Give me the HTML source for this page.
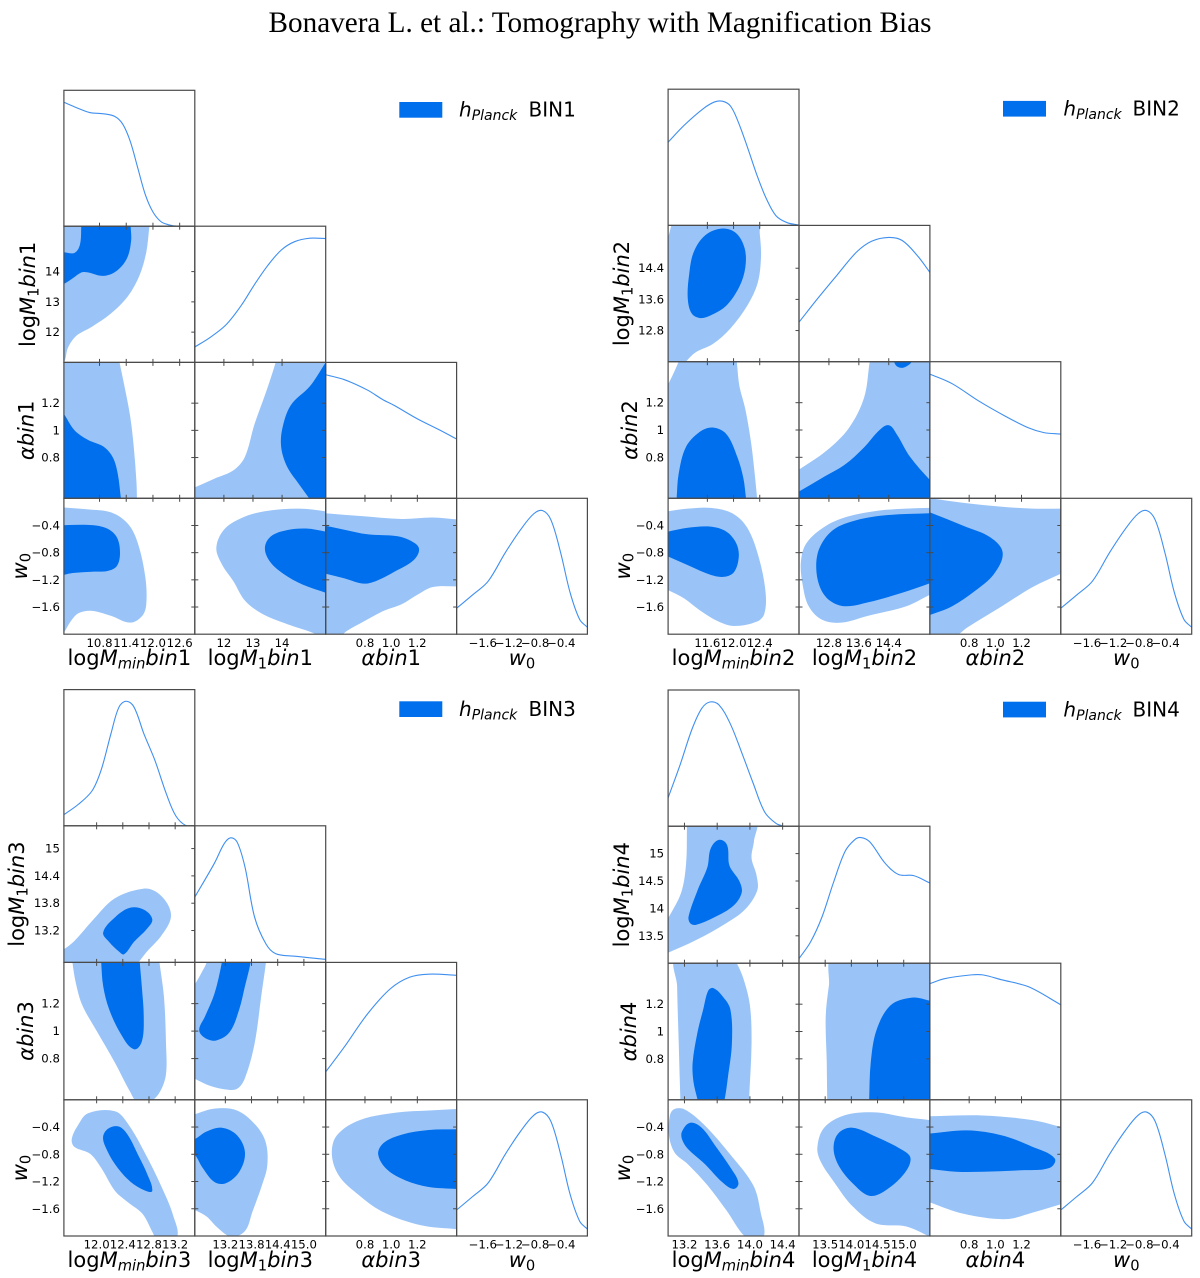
<!DOCTYPE html>
<html lang="en">
<head>
<meta charset="utf-8">
<title>Bonavera L. et al.: Tomography with Magnification Bias</title>
<style>
html,body{margin:0;padding:0;background:#fff;}
svg{display:block;font-family:"DejaVu Sans","Liberation Sans",sans-serif;}
.t{font-size:21px;fill:#000;text-anchor:middle;}
.i{font-style:italic;}
.s{font-size:14.7px;}
.l{font-size:20px;fill:#000;}
.ls{font-size:14px;font-style:italic;}
.tick-label{font-size:11.7px;fill:#000;}
</style>
</head>
<body>
<svg id="figure" width="1200" height="1278" viewBox="0 0 1200 1278" xmlns="http://www.w3.org/2000/svg">
<text x="600" y="32" text-anchor="middle" style="font-family:'Liberation Serif',serif;font-size:29.2px">Bonavera L. et al.: Tomography with Magnification Bias</text>

<rect x="399.3" y="102" width="43" height="15.7" fill="#006FED"/>
<text class="l" x="459" y="116.7"><tspan class="i">h</tspan><tspan class="ls" dy="3.5">Planck</tspan><tspan x="528.5" dy="-3.5">BIN1</tspan></text>
<rect x="1003" y="100.9" width="43" height="15.7" fill="#006FED"/>
<text class="l" x="1063.4" y="115.6"><tspan class="i">h</tspan><tspan class="ls" dy="3.5">Planck</tspan><tspan x="1132.5" dy="-3.5">BIN2</tspan></text>
<rect x="399.3" y="701.3" width="43" height="15.7" fill="#006FED"/>
<text class="l" x="459" y="716"><tspan class="i">h</tspan><tspan class="ls" dy="3.5">Planck</tspan><tspan x="528.5" dy="-3.5">BIN3</tspan></text>
<rect x="1003" y="701.7" width="43" height="15.7" fill="#006FED"/>
<text class="l" x="1063.4" y="716.4"><tspan class="i">h</tspan><tspan class="ls" dy="3.5">Planck</tspan><tspan x="1132.5" dy="-3.5">BIN4</tspan></text>

<text class="t" x="129.4" y="665">log<tspan class="i">M</tspan><tspan class="s i" dy="3.5">min</tspan><tspan class="i" dy="-3.5">bin</tspan>1</text>
<text class="t" x="260.3" y="665">log<tspan class="i">M</tspan><tspan class="s" dy="3.5">1</tspan><tspan class="i" dy="-3.5">bin</tspan>1</text>
<text class="t" x="391.2" y="665"><tspan class="i">αbin</tspan>1</text>
<text class="t" x="522" y="665"><tspan class="i">w</tspan><tspan class="s" dy="3.5">0</tspan></text>
<text class="t" x="733.5" y="665">log<tspan class="i">M</tspan><tspan class="s i" dy="3.5">min</tspan><tspan class="i" dy="-3.5">bin</tspan>2</text>
<text class="t" x="864.5" y="665">log<tspan class="i">M</tspan><tspan class="s" dy="3.5">1</tspan><tspan class="i" dy="-3.5">bin</tspan>2</text>
<text class="t" x="995.4" y="665"><tspan class="i">αbin</tspan>2</text>
<text class="t" x="1126.3" y="665"><tspan class="i">w</tspan><tspan class="s" dy="3.5">0</tspan></text>
<text class="t" x="129.4" y="1267">log<tspan class="i">M</tspan><tspan class="s i" dy="3.5">min</tspan><tspan class="i" dy="-3.5">bin</tspan>3</text>
<text class="t" x="260.3" y="1267">log<tspan class="i">M</tspan><tspan class="s" dy="3.5">1</tspan><tspan class="i" dy="-3.5">bin</tspan>3</text>
<text class="t" x="391.2" y="1267"><tspan class="i">αbin</tspan>3</text>
<text class="t" x="522" y="1267"><tspan class="i">w</tspan><tspan class="s" dy="3.5">0</tspan></text>
<text class="t" x="733.5" y="1267">log<tspan class="i">M</tspan><tspan class="s i" dy="3.5">min</tspan><tspan class="i" dy="-3.5">bin</tspan>4</text>
<text class="t" x="864.5" y="1267">log<tspan class="i">M</tspan><tspan class="s" dy="3.5">1</tspan><tspan class="i" dy="-3.5">bin</tspan>4</text>
<text class="t" x="995.4" y="1267"><tspan class="i">αbin</tspan>4</text>
<text class="t" x="1126.3" y="1267"><tspan class="i">w</tspan><tspan class="s" dy="3.5">0</tspan></text>

<text class="t" transform="translate(35.2 294.3) rotate(-90)">log<tspan class="i">M</tspan><tspan class="s" dy="3.5">1</tspan><tspan class="i" dy="-3.5">bin</tspan>1</text>
<text class="t" transform="translate(33.7 430.3) rotate(-90)"><tspan class="i">αbin</tspan>1</text>
<text class="t" transform="translate(26.8 566.2) rotate(-90)"><tspan class="i">w</tspan><tspan class="s" dy="3.5">0</tspan></text>
<text class="t" transform="translate(629 293.5) rotate(-90)">log<tspan class="i">M</tspan><tspan class="s" dy="3.5">1</tspan><tspan class="i" dy="-3.5">bin</tspan>2</text>
<text class="t" transform="translate(637 430) rotate(-90)"><tspan class="i">αbin</tspan>2</text>
<text class="t" transform="translate(630 566.2) rotate(-90)"><tspan class="i">w</tspan><tspan class="s" dy="3.5">0</tspan></text>
<text class="t" transform="translate(24 894.1) rotate(-90)">log<tspan class="i">M</tspan><tspan class="s" dy="3.5">1</tspan><tspan class="i" dy="-3.5">bin</tspan>3</text>
<text class="t" transform="translate(33 1031) rotate(-90)"><tspan class="i">αbin</tspan>3</text>
<text class="t" transform="translate(27 1168) rotate(-90)"><tspan class="i">w</tspan><tspan class="s" dy="3.5">0</tspan></text>
<text class="t" transform="translate(629 894.7) rotate(-90)">log<tspan class="i">M</tspan><tspan class="s" dy="3.5">1</tspan><tspan class="i" dy="-3.5">bin</tspan>4</text>
<text class="t" transform="translate(636 1031.5) rotate(-90)"><tspan class="i">αbin</tspan>4</text>
<text class="t" transform="translate(630 1168) rotate(-90)"><tspan class="i">w</tspan><tspan class="s" dy="3.5">0</tspan></text>
</svg>

<script>
/* ---------- axis ranges and ticks (data units) ---------- */
const alphaRange = [0.5, 1.5];
const w0Range = [-2, 0];
const alphaTicks = [0.8, 1.0, 1.2];
const alphaXLabels = ['0.8', '1.0', '1.2'];
const alphaYLabels = ['0.8', '1', '1.2'];
const w0Ticks = [-1.6, -1.2, -0.8, -0.4];
const w0Labels = ['\u22121.6', '\u22121.2', '\u22120.8', '\u22120.4'];

const bin1MminRange = [10, 12.94];
const bin1M1Range = [11, 15.5];
const bin1MminTicks = [10.8, 11.4, 12.0, 12.6];
const bin1MminLabels = ['10.8', '11.4', '12.0', '12.6'];
const bin1M1Ticks = [12, 13, 14];
const bin1M1XLabels = ['12', '13', '14'];
const bin1M1YLabels = ['12', '13', '14'];

const bin2MminRange = [11, 13];
const bin2M1Range = [12, 15.5];
const bin2MminTicks = [11.6, 12.0, 12.4];
const bin2MminLabels = ['11.6', '12.0', '12.4'];
const bin2M1Ticks = [12.8, 13.6, 14.4];
const bin2M1XLabels = ['12.8', '13.6', '14.4'];
const bin2M1YLabels = ['12.8', '13.6', '14.4'];

const bin3MminRange = [11.5, 13.5];
const bin3M1Range = [12.5, 15.5];
const bin3MminTicks = [12.0, 12.4, 12.8, 13.2];
const bin3MminLabels = ['12.0', '12.4', '12.8', '13.2'];
const bin3M1Ticks = [13.2, 13.8, 14.4, 15.0];
const bin3M1XLabels = ['13.2', '13.8', '14.4', '15.0'];
const bin3M1YLabels = ['13.2', '13.8', '14.4', '15'];

const bin4MminRange = [13, 14.6];
const bin4M1Range = [13, 15.5];
const bin4MminTicks = [13.2, 13.6, 14.0, 14.4];
const bin4MminLabels = ['13.2', '13.6', '14.0', '14.4'];
const bin4M1Ticks = [13.5, 14.0, 14.5, 15.0];
const bin4M1XLabels = ['13.5', '14.0', '14.5', '15.0'];
const bin4M1YLabels = ['13.5', '14', '14.5', '15'];

/* ---------- 1D marginals: [parameter, normalised density] ---------- */
const w0Density = [[-2,.21],[-1.754,.319],[-1.52,.427],[-1.257,.659],[-1.023,.845],[-.82,.975],[-.684,1],[-.556,.923],[-.409,.659],[-.263,.334],[-.117,.118],[0,.056]];

const bin1MminDensity = [[10,1.003],[10.28,.96],[10.58,.92],[10.89,.91],[11.14,.889],[11.32,.827],[11.49,.687],[11.66,.47],[11.83,.254],[12,.115],[12.18,.037],[12.35,.012],[12.56,0],[12.94,0]];
const bin1M1Density = [[11,.124],[11.54,.204],[12.07,.303],[12.59,.458],[13.05,.628],[13.51,.783],[13.97,.907],[14.43,.975],[14.96,1.003],[15.5,1]];
const bin1AlphaDensity = [[.5,1],[.643,.96],[.819,.876],[.936,.799],[1.023,.752],[1.199,.644],[1.374,.551],[1.5,.48]];

const bin2MminDensity = [[11,.672],[11.25,.811],[11.54,.944],[11.71,.997],[11.83,1.003],[11.95,.966],[12.06,.851],[12.21,.635],[12.36,.402],[12.5,.217],[12.65,.077],[12.82,.022],[13,.003]];
const bin2M1Density = [[12,.319],[12.51,.514],[13.02,.7],[13.54,.885],[13.94,.972],[14.4,1.003],[14.76,.978],[15.17,.854],[15.5,.721]];
const bin2AlphaDensity = [[.5,1],[.67,.923],[.874,.783],[1.08,.659],[1.254,.567],[1.371,.529],[1.5,.517]];

const bin3MminDensity = [[11.5,.09],[11.72,.173],[11.93,.282],[12.07,.452],[12.22,.746],[12.34,.957],[12.45,1.006],[12.57,.96],[12.72,.746],[12.89,.529],[13.07,.251],[13.21,.08],[13.36,.003],[13.5,0]];
const bin3M1Density = [[12.5,.526],[12.95,.799],[13.17,.954],[13.32,1.003],[13.47,.969],[13.65,.768],[13.87,.365],[14.13,.149],[14.35,.071],[14.79,.05],[15.5,.025]];
const bin3AlphaDensity = [[.5,.223],[.643,.424],[.819,.687],[.994,.889],[1.14,.981],[1.287,1.006],[1.5,.997]];

const bin4MminDensity = [[13,.229],[13.15,.502],[13.29,.78],[13.41,.95],[13.51,1.003],[13.62,.981],[13.76,.827],[13.9,.594],[14.04,.347],[14.18,.115],[14.32,.022],[14.41,0]];
const bin4M1Density = [[13,.037],[13.22,.17],[13.44,.372],[13.66,.65],[13.88,.898],[14.06,.99],[14.18,1.009],[14.35,.975],[14.64,.805],[14.9,.712],[15.19,.703],[15.5,.644]];
const bin4AlphaDensity = [[.5,.935],[.611,.975],[.816,1.006],[.904,1.006],[1.05,.966],[1.254,.91],[1.5,.765]];

/* ---------- 2D credible contours in data units: [x parameter, y parameter] ---------- */
/* BIN 1 */
const bin1M1MminOuter = [[10,11],[10.09,11.48],[10.28,11.88],[10.63,12.18],[11.06,12.62],[11.44,13.19],[11.7,13.88],[11.85,14.64],[11.92,15.5],[11.94,15.78],[9.8,15.78],[9.8,10.8]];
const bin1M1MminInner = [[9.85,13.5],[10,13.59],[10.2,13.78],[10.39,13.97],[10.52,13.98],[10.89,13.86],[11.19,14.03],[11.42,14.45],[11.51,15.02],[11.5,15.5],[11.5,15.78],[10.39,15.78],[10.39,15.5],[10.36,14.89],[10.24,14.62],[10,14.64],[9.85,14.67]];
const bin1AlphaMminOuter = [[11.23,1.54],[11.25,1.5],[11.36,1.325],[11.49,1.1],[11.57,.875],[11.63,.62],[11.64,.5],[11.64,.45],[9.8,.45],[9.8,1.54]];
const bin1AlphaMminInner = [[9.85,1.18],[10,1.12],[10.24,1],[10.54,.93],[10.89,.88],[11.1,.8],[11.21,.68],[11.28,.5],[11.3,.45],[9.8,.45]];
const bin1W0MminOuter = [[9.85,-.12],[10,-.135],[10.54,-.163],[11.06,-.208],[11.44,-.377],[11.66,-.659],[11.83,-1.166],[11.85,-1.56],[11.76,-1.73],[11.49,-1.83],[11.06,-1.73],[10.63,-1.656],[10.33,-1.69],[10.15,-1.814],[10,-1.98],[9.85,-2.12]];
const bin1W0MminInner = [[9.85,-.39],[10,-.394],[10.63,-.394],[10.97,-.445],[11.19,-.575],[11.26,-.8],[11.19,-.997],[10.98,-1.07],[10.63,-1.08],[10.2,-1.1],[10,-1.127],[9.85,-1.15]];
const bin1AlphaM1Outer = [[10.82,.56],[11,.58],[11.67,.644],[12.33,.706],[12.72,.804],[13.05,1.044],[13.45,1.283],[13.78,1.5],[13.84,1.565],[15.75,1.565],[15.75,.45],[10.82,.45]];
const bin1AlphaM1Inner = [[15.62,1.54],[15.5,1.5],[14.96,1.325],[14.3,1.185],[14.01,1.015],[13.97,.875],[14.17,.734],[14.57,.607],[14.93,.5],[15.09,.45],[15.75,.45],[15.75,1.54]];
const bin1W0M1Outer = [[11.74,-.727],[12,-.462],[12.59,-.293],[13.38,-.192],[14.57,-.152],[15.5,-.192],[15.82,-.22],[15.82,-2.12],[15.49,-2.12],[15.16,-2],[14.3,-1.87],[13.32,-1.7],[12.72,-1.504],[12.33,-1.223],[11.93,-.97]];
const bin1W0M1Inner = [[13.41,-.727],[13.62,-.558],[14.17,-.468],[14.83,-.445],[15.5,-.49],[15.82,-.513],[15.82,-1.448],[15.5,-1.39],[14.7,-1.268],[14.04,-1.11],[13.58,-.93]];
const bin1W0AlphaOuter = [[.44,-.208],[.5,-.22],[.79,-.265],[1.08,-.304],[1.316,-.282],[1.5,-.31],[1.564,-.31],[1.564,-1.296],[1.5,-1.296],[1.316,-1.307],[1.2,-1.42],[1.08,-1.56],[.936,-1.662],[.79,-1.814],[.66,-1.955],[.585,-2.07],[.44,-2.12]];
const bin1W0AlphaInner = [[.44,-.394],[.5,-.406],[.643,-.462],[.819,-.53],[1.05,-.558],[1.155,-.631],[1.213,-.744],[1.17,-.913],[1.023,-1.082],[.892,-1.211],[.79,-1.256],[.643,-1.178],[.5,-1.11],[.44,-1.08]];

/* BIN 2 */
const bin2M1MminOuter = [[12.37,15.65],[12.4,15.3],[12.42,14.71],[12.37,14.03],[12.21,13.44],[11.95,12.85],[11.68,12.45],[11.42,12.24],[11.27,12],[11.16,11.81],[10.89,11.81],[10.89,14.81],[11,15.2],[11.05,15.5],[11.08,15.65]];
const bin2M1MminInner = [[11.83,15.42],[12.04,15.3],[12.17,14.91],[12.18,14.42],[12.09,13.93],[11.89,13.44],[11.65,13.19],[11.49,13.12],[11.36,13.24],[11.3,13.63],[11.32,14.22],[11.39,14.81],[11.57,15.25]];
const bin2AlphaMminOuter = [[12.04,1.545],[12.05,1.5],[12.09,1.32],[12.18,1.153],[12.27,.9],[12.33,.648],[12.36,.5],[12.37,.45],[10.89,.45],[10.89,1.25],[11,1.335],[11.1,1.433],[11.16,1.5],[11.2,1.545]];
const bin2AlphaMminInner = [[11.12,.45],[11.13,.5],[11.16,.676],[11.27,.873],[11.48,.985],[11.68,1.018],[11.89,.97],[12.06,.8],[12.15,.648],[12.19,.5],[12.2,.45]];
const bin2W0MminOuter = [[10.89,-.208],[11,-.19],[11.3,-.152],[11.65,-.141],[11.98,-.22],[12.21,-.434],[12.39,-.885],[12.49,-1.39],[12.47,-1.7],[12.36,-1.814],[12.01,-1.88],[11.77,-1.814],[11.48,-1.645],[11.25,-1.476],[11,-1.352],[10.89,-1.307]];
const bin2W0MminInner = [[10.89,-.507],[11,-.49],[11.3,-.434],[11.65,-.417],[11.89,-.49],[12.04,-.659],[12.08,-.856],[12.01,-1.082],[11.86,-1.155],[11.65,-1.127],[11.33,-.997],[11,-.856],[10.89,-.811]];
const bin2AlphaM1Outer = [[11.8,.676],[12,.71],[12.72,.845],[13.33,1.013],[13.74,1.237],[13.89,1.5],[13.92,1.545],[15.68,1.545],[15.68,.45],[11.8,.45]];
const bin2AlphaM1Inner = [[11.8,.517],[12,.55],[12.61,.648],[13.23,.747],[13.74,.873],[14.15,.999],[14.4,1.035],[14.61,.97],[14.97,.803],[15.5,.634],[15.68,.59],[15.68,.45],[11.8,.45]];
const bin2AlphaM1InnerTop = [[14.54,1.53],[14.54,1.5],[14.62,1.466],[14.76,1.455],[14.9,1.47],[15.02,1.5],[15.07,1.53]];
const bin2W0M1Outer = [[12.05,-.941],[12.2,-.659],[12.72,-.406],[13.33,-.265],[14.15,-.18],[14.87,-.152],[15.5,-.141],[15.74,-.141],[15.74,-1.363],[15.5,-1.42],[14.87,-1.589],[13.84,-1.73],[13.13,-1.83],[12.61,-1.786],[12.26,-1.589],[12.1,-1.279]];
const bin2W0M1Inner = [[12.46,-.997],[12.56,-.716],[12.92,-.462],[13.54,-.321],[14.35,-.248],[15.5,-.22],[15.74,-.22],[15.74,-1.194],[15.5,-1.25],[14.76,-1.39],[13.84,-1.532],[13.23,-1.589],[12.82,-1.504],[12.56,-1.307]];
const bin2W0AlphaOuter = [[.436,.017],[.5,0],[.757,-.068],[1.05,-.124],[1.284,-.152],[1.5,-.152],[1.561,-.152],[1.561,-1.053],[1.5,-1.11],[1.284,-1.307],[1.05,-1.589],[.787,-1.9],[.684,-2.04],[.436,-2.12]];
const bin2W0AlphaInner = [[.436,-.163],[.5,-.208],[.757,-.406],[.962,-.575],[1.056,-.8],[.991,-1.11],[.845,-1.363],[.67,-1.589],[.5,-1.718],[.436,-1.758]];

/* BIN 3 */
const bin3M1MminOuter = [[11.4,12.74],[11.5,12.79],[11.66,12.97],[11.93,13.41],[12.28,13.91],[12.72,14.12],[12.92,14.04],[13.1,13.74],[13.13,13.45],[12.98,13.07],[12.77,12.74],[12.64,12.5],[12.54,12.32],[11.4,12.32]];
const bin3M1MminInner = [[12.1,13.16],[12.28,13.49],[12.51,13.7],[12.72,13.66],[12.85,13.45],[12.77,13.24],[12.57,12.95],[12.42,12.68],[12.34,12.74],[12.19,12.95]];
const bin3AlphaMminOuter = [[11.62,1.55],[12.95,1.55],[12.96,1.5],[13.03,1.244],[13.06,.91],[13.06,.687],[12.97,.56],[12.83,.49],[12.63,.48],[12.51,.56],[12.28,.77],[12.01,.993],[11.78,1.19],[11.68,1.355],[11.63,1.5]];
const bin3AlphaMminInner = [[12.07,1.55],[12.07,1.5],[12.1,1.327],[12.19,1.16],[12.37,.979],[12.57,.868],[12.69,.923],[12.72,1.104],[12.69,1.327],[12.66,1.5],[12.66,1.55]];
const bin3W0MminOuter = [[11.62,-.579],[11.71,-.382],[11.87,-.197],[12.28,-.169],[12.48,-.354],[12.75,-.803],[12.98,-1.253],[13.17,-1.7],[13.22,-2.04],[12.95,-2.1],[12.86,-1.955],[12.7,-1.674],[12.48,-1.506],[12.28,-1.337],[12.07,-1],[11.9,-.792],[11.66,-.691]];
const bin3W0MminInner = [[12.1,-.534],[12.18,-.421],[12.34,-.393],[12.48,-.522],[12.63,-.803],[12.77,-1.084],[12.85,-1.337],[12.75,-1.337],[12.51,-1.197],[12.28,-.944],[12.13,-.68]];
const bin3AlphaM1Outer = [[12.77,1.55],[14.13,1.55],[14.13,1.5],[14.03,1.272],[13.87,.909],[13.65,.659],[13.47,.58],[13.21,.575],[12.86,.6],[12.5,.653],[12.33,.687],[12.33,1.27],[12.5,1.34],[12.68,1.44],[12.77,1.5]];
const bin3AlphaM1Inner = [[13.12,1.55],[13.78,1.55],[13.78,1.5],[13.65,1.327],[13.52,1.16],[13.3,.993],[12.99,.932],[12.73,.951],[12.6,1.007],[12.73,1.104],[12.95,1.272],[13.12,1.5]];
const bin3W0M1Outer = [[12.33,-.253],[12.5,-.213],[12.95,-.129],[13.47,-.157],[13.91,-.382],[14.13,-.635],[14.16,-.972],[14.04,-1.253],[13.82,-1.646],[13.65,-1.927],[13.34,-2.01],[13.03,-1.882],[12.77,-1.713],[12.5,-1.618],[12.33,-1.562]];
const bin3W0M1Inner = [[12.33,-.618],[12.5,-.579],[12.77,-.466],[13.12,-.41],[13.47,-.522],[13.65,-.775],[13.52,-1.056],[13.21,-1.225],[12.95,-1.208],[12.68,-1],[12.5,-.803],[12.33,-.719]];
const bin3W0AlphaOuter = [[.547,-.803],[.585,-.522],[.76,-.298],[1.053,-.185],[1.287,-.157],[1.5,-.135],[1.564,-.129],[1.564,-1.91],[1.5,-1.9],[1.228,-1.843],[.936,-1.646],[.731,-1.365],[.6,-1.112]];
const bin3W0AlphaInner = [[.901,-.803],[.942,-.635],[1.082,-.511],[1.287,-.444],[1.5,-.433],[1.564,-.433],[1.564,-1.315],[1.5,-1.309],[1.287,-1.281],[1.111,-1.185],[.971,-1.028]];

/* BIN 4 */
const bin4M1MminOuter = [[12.92,13.14],[13,13.19],[13.34,13.42],[13.71,13.73],[13.94,13.98],[14.09,14.33],[14.08,14.61],[14.02,14.92],[14.05,15.23],[14.06,15.62],[13.23,15.66],[13.23,15.45],[13.22,14.82],[13.16,14.29],[13,13.82],[12.92,13.63]];
const bin4M1MminInner = [[13.25,13.85],[13.36,14.33],[13.48,14.75],[13.52,15.09],[13.62,15.25],[13.72,15.16],[13.75,14.78],[13.87,14.5],[13.9,14.29],[13.8,14.05],[13.57,13.84],[13.34,13.7],[13.27,13.73]];
const bin4AlphaMminOuter = [[13.11,1.556],[13.11,1.332],[13.13,.912],[13.15,.5],[13.16,.42],[13.99,.42],[13.99,.5],[14.02,.912],[14,1.192],[13.92,1.388],[13.84,1.5],[13.78,1.556]];
const bin4AlphaMminInner = [[13.3,.772],[13.36,.996],[13.43,1.164],[13.49,1.298],[13.55,1.318],[13.66,1.262],[13.76,1.164],[13.78,.912],[13.73,.66],[13.69,.5],[13.66,.45],[13.38,.45],[13.36,.5],[13.31,.632]];
const bin4W0MminOuter = [[13.01,-.522],[13.02,-.242],[13.07,-.14],[13.2,-.14],[13.43,-.354],[13.76,-.803],[14.04,-1.253],[14.13,-1.646],[14.16,-2.04],[13.97,-2.04],[13.71,-1.618],[13.48,-1.253],[13.24,-.944],[13.08,-.775]];
const bin4W0MminInner = [[13.17,-.466],[13.27,-.337],[13.41,-.41],[13.57,-.663],[13.78,-1.028],[13.86,-1.225],[13.8,-1.309],[13.66,-1.208],[13.45,-.944],[13.24,-.719],[13.17,-.579]];
const bin4AlphaM1Outer = [[13.67,1.556],[15.63,1.556],[15.63,.4],[13.55,.4],[13.54,.46],[13.53,.772],[13.51,1.108],[13.57,1.332]];
const bin4AlphaM1Inner = [[14.34,.45],[14.34,.5],[14.37,.772],[14.48,1.01],[14.75,1.192],[15.16,1.248],[15.5,1.225],[15.63,1.206],[15.63,.45]];
const bin4W0M1Outer = [[13.35,-.702],[13.48,-.41],[13.88,-.225],[14.46,-.185],[15.05,-.258],[15.5,-.298],[15.67,-.315],[15.67,-2.07],[15.5,-2.01],[15.05,-1.86],[14.46,-1.815],[14.02,-1.562],[13.66,-1.197],[13.42,-.916]];
const bin4W0M1Inner = [[13.66,-.719],[13.75,-.494],[14.02,-.41],[14.46,-.539],[14.97,-.736],[15.13,-.86],[15.01,-1.084],[14.64,-1.337],[14.35,-1.41],[14.06,-1.253],[13.77,-.983]];
const bin4W0AlphaOuter = [[.436,-.242],[.5,-.242],[.904,-.23],[1.284,-.298],[1.5,-.399],[1.561,-.438],[1.561,-1.506],[1.5,-1.534],[1.284,-1.657],[1.079,-1.753],[.757,-1.674],[.5,-1.506],[.436,-1.449]];
const bin4W0AlphaInner = [[.436,-.5],[.5,-.494],[.787,-.449],[1.05,-.522],[1.284,-.691],[1.453,-.86],[1.415,-1],[1.196,-1.034],[.904,-1.056],[.699,-1.056],[.5,-1.017],[.436,-1]];

/* ---------- triangle definitions ---------- */
const colEdgesLeft = [63.9, 194.8, 325.7, 456.6, 587.4];
const colEdgesRight = [668.1, 799, 929.9, 1060.8, 1191.7];
const paramNames = ['logmmin', 'logm1', 'alpha', 'w0'];

const triangles = [
  { id:'bin1', xEdges:colEdgesLeft, yEdges:[90.3,226.2,362.4,498.3,634.2],
    ranges:[bin1MminRange,bin1M1Range,alphaRange,w0Range],
    ticks:[bin1MminTicks,bin1M1Ticks,alphaTicks,w0Ticks],
    xLabels:[bin1MminLabels,bin1M1XLabels,alphaXLabels,w0Labels],
    yLabels:[bin1MminLabels,bin1M1YLabels,alphaYLabels,w0Labels],
    density:[bin1MminDensity,bin1M1Density,bin1AlphaDensity,w0Density],
    contours:{ '1-0':[[bin1M1MminOuter],[bin1M1MminInner]], '2-0':[[bin1AlphaMminOuter],[bin1AlphaMminInner]], '3-0':[[bin1W0MminOuter],[bin1W0MminInner]],
               '2-1':[[bin1AlphaM1Outer],[bin1AlphaM1Inner]], '3-1':[[bin1W0M1Outer],[bin1W0M1Inner]], '3-2':[[bin1W0AlphaOuter],[bin1W0AlphaInner]] } },
  { id:'bin2', xEdges:colEdgesRight, yEdges:[89.2,225.4,361.7,498.3,634.2],
    ranges:[bin2MminRange,bin2M1Range,alphaRange,w0Range],
    ticks:[bin2MminTicks,bin2M1Ticks,alphaTicks,w0Ticks],
    xLabels:[bin2MminLabels,bin2M1XLabels,alphaXLabels,w0Labels],
    yLabels:[bin2MminLabels,bin2M1YLabels,alphaYLabels,w0Labels],
    density:[bin2MminDensity,bin2M1Density,bin2AlphaDensity,w0Density],
    contours:{ '1-0':[[bin2M1MminOuter],[bin2M1MminInner]], '2-0':[[bin2AlphaMminOuter],[bin2AlphaMminInner]], '3-0':[[bin2W0MminOuter],[bin2W0MminInner]],
               '2-1':[[bin2AlphaM1Outer],[bin2AlphaM1Inner,bin2AlphaM1InnerTop]], '3-1':[[bin2W0M1Outer],[bin2W0M1Inner]], '3-2':[[bin2W0AlphaOuter],[bin2W0AlphaInner]] } },
  { id:'bin3', xEdges:colEdgesLeft, yEdges:[689.6,825.8,962.4,1099.8,1236],
    ranges:[bin3MminRange,bin3M1Range,alphaRange,w0Range],
    ticks:[bin3MminTicks,bin3M1Ticks,alphaTicks,w0Ticks],
    xLabels:[bin3MminLabels,bin3M1XLabels,alphaXLabels,w0Labels],
    yLabels:[bin3MminLabels,bin3M1YLabels,alphaYLabels,w0Labels],
    density:[bin3MminDensity,bin3M1Density,bin3AlphaDensity,w0Density],
    contours:{ '1-0':[[bin3M1MminOuter],[bin3M1MminInner]], '2-0':[[bin3AlphaMminOuter],[bin3AlphaMminInner]], '3-0':[[bin3W0MminOuter],[bin3W0MminInner]],
               '2-1':[[bin3AlphaM1Outer],[bin3AlphaM1Inner]], '3-1':[[bin3W0M1Outer],[bin3W0M1Inner]], '3-2':[[bin3W0AlphaOuter],[bin3W0AlphaInner]] } },
  { id:'bin4', xEdges:colEdgesRight, yEdges:[690,826.2,963.2,1099.8,1236],
    ranges:[bin4MminRange,bin4M1Range,alphaRange,w0Range],
    ticks:[bin4MminTicks,bin4M1Ticks,alphaTicks,w0Ticks],
    xLabels:[bin4MminLabels,bin4M1XLabels,alphaXLabels,w0Labels],
    yLabels:[bin4MminLabels,bin4M1YLabels,alphaYLabels,w0Labels],
    density:[bin4MminDensity,bin4M1Density,bin4AlphaDensity,w0Density],
    contours:{ '1-0':[[bin4M1MminOuter],[bin4M1MminInner]], '2-0':[[bin4AlphaMminOuter],[bin4AlphaMminInner]], '3-0':[[bin4W0MminOuter],[bin4W0MminInner]],
               '2-1':[[bin4AlphaM1Outer],[bin4AlphaM1Inner]], '3-1':[[bin4W0M1Outer],[bin4W0M1Inner]], '3-2':[[bin4W0AlphaOuter],[bin4W0AlphaInner]] } }
];

/* ---------- drawing ---------- */
const SVG_NS = 'http://www.w3.org/2000/svg';
const LIGHT = '#9AC4F7';
const DARK = '#006FED';
const LINE = '#3F8FF0';
const FRAME = '#4a4a4a';
const TICK_HALF = 3.5;
const DENSITY_TOP = 1.1;
const figure = document.getElementById('figure');

function create(tag, attrs, parent) {
  const node = document.createElementNS(SVG_NS, tag);
  for (const k in attrs) node.setAttribute(k, attrs[k]);
  parent.appendChild(node);
  return node;
}

function xAxis(tri, c) {
  const a = tri.xEdges[c], b = tri.xEdges[c + 1], r = tri.ranges[c];
  return v => a + (v - r[0]) / (r[1] - r[0]) * (b - a);
}
function yAxis(tri, row) {
  const a = tri.yEdges[row], b = tri.yEdges[row + 1], r = tri.ranges[row];
  return v => b - (v - r[0]) / (r[1] - r[0]) * (b - a);
}
function densityAxis(tri, row) {
  const a = tri.yEdges[row], b = tri.yEdges[row + 1];
  return v => b - v / DENSITY_TOP * (b - a);
}

function smoothPath(pts, closed) {
  const n = pts.length;
  const at = i => closed ? pts[(i + n) % n] : pts[Math.max(0, Math.min(n - 1, i))];
  const tangent = i => {
    const p = at(i - 1), q = at(i + 1);
    const dx = q[0] - p[0], dy = q[1] - p[1], len = Math.hypot(dx, dy) || 1;
    return [dx / len, dy / len];
  };
  let d = 'M' + pts[0][0].toFixed(2) + ' ' + pts[0][1].toFixed(2);
  const segs = closed ? n : n - 1;
  for (let i = 0; i < segs; i++) {
    const p = at(i), q = at(i + 1), t0 = tangent(i), t1 = tangent(i + 1);
    const h = Math.hypot(q[0] - p[0], q[1] - p[1]) / 3;
    d += 'C' + (p[0] + t0[0] * h).toFixed(2) + ' ' + (p[1] + t0[1] * h).toFixed(2) + ' ' +
         (q[0] - t1[0] * h).toFixed(2) + ' ' + (q[1] - t1[1] * h).toFixed(2) + ' ' +
         q[0].toFixed(2) + ' ' + q[1].toFixed(2);
  }
  return d + (closed ? 'Z' : '');
}

triangles.forEach(tri => {
  const group = create('g', {}, figure);
  
  
  const defs = create('defs', {}, group);

  for (let row = 0; row < 4; row++) {
    for (let col = 0; col <= row; col++) {
      const px = tri.xEdges[col], py = tri.yEdges[row];
      const pw = tri.xEdges[col + 1] - px, ph = tri.yEdges[row + 1] - py;
      const clipId = 'clip-' + tri.id + '-' + row + '-' + col;
      const clip = create('clipPath', { id: clipId }, defs);
      create('rect', { x: px, y: py, width: pw, height: ph }, clip);
      const panelName = paramNames[row] + '-vs-' + paramNames[col] + '-' + tri.id;
      const panel = create('g', { 'clip-path': 'url(#' + clipId + ')' }, group);
      
      
      const sx = xAxis(tri, col);

      if (row === col) {
        const sy = densityAxis(tri, row);
        const pts = tri.density[col].map(p => [sx(p[0]), sy(p[1])]);
        const curve = create('path', { d: smoothPath(pts, false), fill: 'none', stroke: LINE, 'stroke-width': 1.1 }, panel);
        
        
      } else {
        const sy = yAxis(tri, row);
        const sets = tri.contours[row + '-' + col];
        sets.forEach((regions, level) => {
          regions.forEach(region => {
            const pts = region.map(p => [sx(p[0]), sy(p[1])]);
            const shape = create('path', { d: smoothPath(pts, true), fill: level === 0 ? LIGHT : DARK, stroke: 'none' }, panel);
            
            
          });
        });
      }
    }
  }

  /* frames */
  for (let row = 0; row < 4; row++) {
    for (let col = 0; col <= row; col++) {
      const frame = create('rect', {
        x: tri.xEdges[col], y: tri.yEdges[row],
        width: tri.xEdges[col + 1] - tri.xEdges[col],
        height: tri.yEdges[row + 1] - tri.yEdges[row],
        fill: 'none', stroke: FRAME, 'stroke-width': 1.2
      }, group);
      
      
    }
  }

  /* x ticks on the shared edges between rows */
  for (let col = 0; col < 3; col++) {
    const sx = xAxis(tri, col);
    tri.ticks[col].forEach(v => {
      for (let row = col + 1; row < 4; row++) {
        const y = tri.yEdges[row];
        const mark = create('line', { x1: sx(v), x2: sx(v), y1: y - TICK_HALF, y2: y + TICK_HALF, stroke: FRAME, 'stroke-width': 1 }, group);
        
        
      }
    });
  }

  /* y ticks on the shared edges between columns */
  for (let row = 1; row < 4; row++) {
    const sy = yAxis(tri, row);
    tri.ticks[row].forEach(v => {
      for (let col = 0; col < row; col++) {
        const x = tri.xEdges[col + 1];
        const right = col + 1 === row ? x : x + TICK_HALF;
        const mark = create('line', { x1: x - TICK_HALF, x2: right, y1: sy(v), y2: sy(v), stroke: FRAME, 'stroke-width': 1 }, group);
        
        
      }
    });
  }

  /* tick labels */
  const bottom = tri.yEdges[4];
  for (let col = 0; col < 4; col++) {
    const sx = xAxis(tri, col);
    tri.ticks[col].forEach((v, i) => {
      const label = create('text', { class: 'tick-label', x: sx(v), y: bottom + 12.7, 'text-anchor': 'middle' }, group);
      label.textContent = tri.xLabels[col][i];
      
      
    });
  }
  const left = tri.xEdges[0];
  for (let row = 1; row < 4; row++) {
    const sy = yAxis(tri, row);
    tri.ticks[row].forEach((v, i) => {
      const label = create('text', { class: 'tick-label', x: left - 4, y: sy(v) + 4, 'text-anchor': 'end' }, group);
      label.textContent = tri.yLabels[row][i];
      
      
    });
  }
});
</script>
</body>
</html>
